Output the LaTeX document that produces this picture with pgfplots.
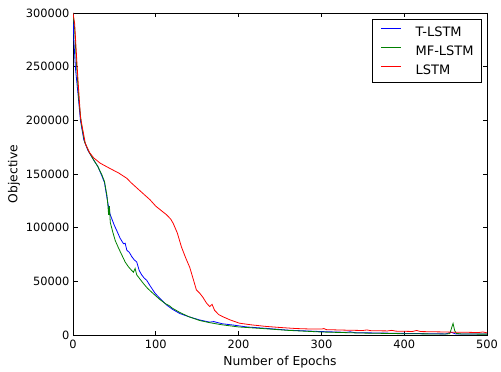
\documentclass[border=0pt]{standalone}
\usepackage{fontspec}
\setmainfont{DejaVu Sans}
\usepackage{pgfplots}
\pgfplotsset{compat=1.18}
\definecolor{mgreen}{rgb}{0,0.5,0}
\begin{document}
\begin{tikzpicture}
\begin{axis}[
  scale only axis,
  width=414pt, height=322pt,
  xmin=0, xmax=500, ymin=0, ymax=300000,
  xtick={0,100,200,300,400,500},
  ytick={0,50000,100000,150000,200000,250000,300000},
  scaled y ticks=false,
  /pgf/number format/.cd, fixed, set thousands separator={}, assume math mode=true,
  /pgfplots/.cd,
  tick label style={font=\fontsize{11.4}{13.5}\selectfont},
  xticklabel style={yshift=-2pt},
  label style={font=\fontsize{12.3}{14.5}\selectfont},
  tick align=inside,
  xtick pos=both, ytick pos=both,
  major tick length=4.5pt,
  tick style={black, line width=0.7pt},
  axis line style={black, line width=0.9pt},
  xlabel={Number of Epochs},
  ylabel={Objective},
  xlabel style={at={(axis description cs:0.5,-0.0829)}, anchor=center},
  ylabel style={at={(axis description cs:-0.1425,0.5)}, anchor=center},
  legend style={at={(axis description cs:1,1)}, anchor=north east, xshift=-5pt, yshift=-6pt,
    draw=black, line width=0.8pt,
    font=\fontsize{13}{15}\selectfont,
    nodes={inner sep=0pt, text height=9.5pt, text depth=0pt},
    row sep=9.8pt, column sep=14pt, inner xsep=8pt, inner ysep=7.5pt},
  legend cell align=left,
  legend image code/.code={\draw[#1] (0pt,3.5pt) -- (20pt,3.5pt);},
]
\coordinate (bl) at (rel axis cs:0,0);
\coordinate (tr) at (rel axis cs:1,1);
\addplot[draw=blue, line width=0.8pt] coordinates {
(0,300000)(1,275000)(3,248000)(6,225000)(9,200000)(13,182000)(18,172000)(25,163000)(30,157000)(35,148000)(38,142000)(41,128000)(43,119000)(45,112000)(47,108000)(50,102000)(53,97000)(57,90000)(61,85000)(63,85500)(65,79000)(68,77000)(71,73000)(74,70000)(77,68000)(80,60000)(83,56000)(86,53000)(89,51000)(93,46000)(99,39000)(105,34000)(113,28000)(120,24000)(129,20000)(140,17000)(153,14000)(165,12000)(170,12500)(180,10500)(193,9300)(210,7500)(233,6200)(260,4500)(300,3200)(330,2500)(335,3000)(340,2200)(400,1500)(450,1000)(457,2500)(462,1000)(500,900)
};
\addlegendentry{T-LSTM}
\addplot[draw=mgreen, line width=0.8pt] coordinates {
(0,300000)(2,285000)(4,255000)(7,220000)(10,197000)(14,180000)(19,171000)(25,163000)(30,157000)(35,149000)(38,143000)(41,130000)(42,122000)(43,112000)(44,120000)(45,105000)(48,96000)(51,88000)(55,81000)(59,74500)(63,68000)(67,63500)(71,60000)(73,58500)(75,62000)(77,56000)(81,52000)(85,48000)(90,43500)(97,38500)(105,33000)(112,29000)(116,27500)(120,25000)(129,21000)(140,17000)(153,13500)(165,11500)(180,9500)(200,7500)(233,5800)(260,4300)(300,2800)(350,1800)(400,1200)(450,900)(455,1200)(457,6000)(459,10800)(461,4000)(463,1500)(470,900)(500,800)
};
\addlegendentry{MF-LSTM}
\addplot[draw=red, line width=0.8pt] coordinates {
(0,300000)(2,290000)(5,250000)(9,203000)(15,178000)(20,170000)(25,165000)(33,160000)(45,155000)(55,151000)(65,146000)(70,142000)(80,135000)(93,126000)(100,120000)(113,112000)(118,108000)(121,104000)(126,95000)(131,82000)(136,72000)(141,63000)(146,50000)(149,42000)(153,39000)(157,35000)(161,30000)(165,26500)(168,28500)(171,23000)(176,19000)(181,17000)(190,14000)(201,11000)(215,9500)(233,8000)(250,7000)(270,6000)(290,5500)(300,5500)(303,6000)(306,5000)(330,4500)(350,4200)(355,4700)(360,4000)(380,3800)(385,4300)(390,3600)(410,3300)(415,4200)(420,3200)(450,2800)(460,2500)(470,2600)(490,2300)(495,2800)(500,2000)
};
\addlegendentry{LSTM}
\end{axis}
\pgfresetboundingbox
\path[use as bounding box] ([xshift=-73pt,yshift=-36pt]bl) rectangle ([xshift=14pt,yshift=13pt]tr);
\end{tikzpicture}
\end{document}
